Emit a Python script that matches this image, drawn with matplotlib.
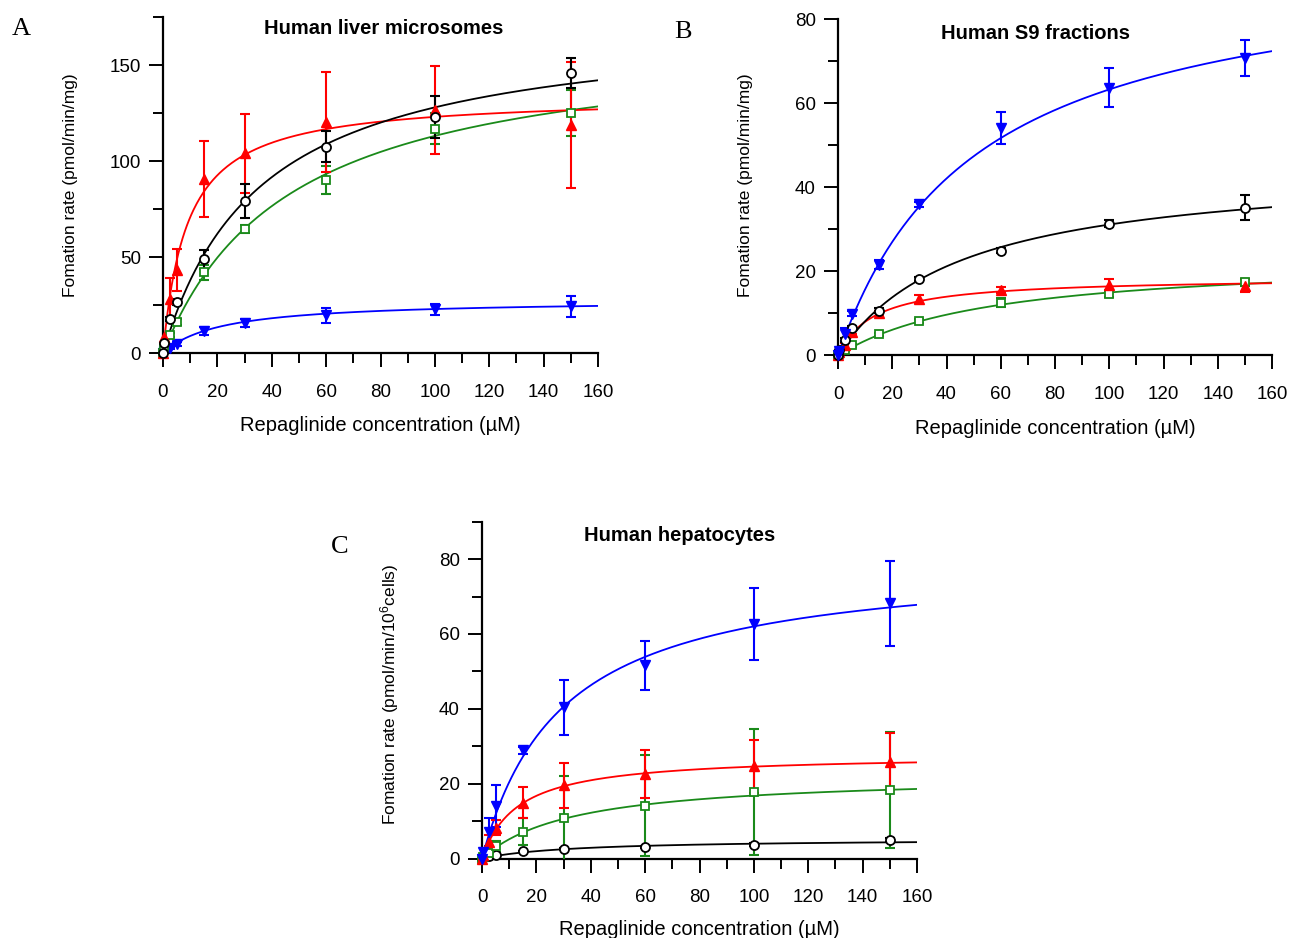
import numpy as np
import matplotlib
matplotlib.use("Agg")
import matplotlib.pyplot as plt
from matplotlib.ticker import MultipleLocator

plt.rcParams['font.family'] = ['Liberation Sans', 'DejaVu Sans']
plt.rcParams['mathtext.fontset'] = 'custom'
plt.rcParams['mathtext.rm'] = 'Liberation Sans'
plt.rcParams['mathtext.it'] = 'Liberation Sans:italic'
plt.rcParams['mathtext.bf'] = 'Liberation Sans:bold'

# ---------------- data ----------------
conc = [0, 0.5, 2.5, 5, 15, 30, 60, 100, 150]

# Panel A: Human liver microsomes
a_black = [0, 5.4, 17.9, 26.6, 48.8, 79.2, 107.4, 122.9, 145.8]
a_black_err = [0, 0.5, 1, 1.5, 5, 9, 8, 11, 8]
a_red = [0, 8.2, 28, 43.2, 90.6, 104, 120.5, 126.6, 118.7]
a_red_err = [0, 1, 11, 11, 20, 20.6, 26, 23, 33]
a_green = [0, 3, 9.5, 16, 42, 64.6, 90.1, 116.8, 125.2]
a_green_err = [0, 0.5, 1, 1.5, 4, 2, 7.5, 8, 12]
a_blue = [0, 1, 2.5, 4.7, 11.4, 15.5, 19.6, 22.7, 24.3]
a_blue_err = [0, 0.3, 0.5, 0.8, 2, 2, 4, 3, 5.5]

# Panel B: Human S9 fractions
b_black = [0, 1.2, 3.6, 6.6, 10.6, 18.1, 24.9, 31.3, 35.1]
b_black_err = [0, 0.3, 0.5, 0.5, 0.6, 0.5, 0.6, 0.8, 3]
b_red = [0, 0.8, 2.5, 5.5, 10, 13.4, 15.5, 16.8, 16.6]
b_red_err = [0, 0.2, 0.4, 0.5, 0.5, 1, 0.7, 1.5, 1.5]
b_green = [0, 0.3, 1.2, 2.4, 5, 8.2, 12.6, 14.6, 17.4]
b_green_err = [0, 0.1, 0.2, 0.3, 0.4, 0.5, 1, 0.6, 0.8]
b_blue = [0, 1, 5, 9.9, 21.6, 35.9, 54.2, 63.7, 70.7]
b_blue_err = [0, 0.3, 1.5, 0.6, 1, 0.6, 3.8, 4.7, 4.3]

# Panel C: Human hepatocytes
c_black = [0, 0.3, 0.6, 1.0, 1.9, 2.6, 3.1, 3.7, 5.0]
c_black_err = [0, 0, 0.1, 0.2, 0.2, 0.3, 0.3, 0.4, 0.5]
c_red = [0, 1, 4.4, 8.2, 14.9, 19.6, 22.6, 24.6, 25.9]
c_red_err = [0, 0.5, 2, 2, 4.2, 6, 6.4, 7.1, 7.6]
c_green = [0, 0.5, 1.5, 3.3, 7.2, 10.7, 14.1, 17.8, 18.2]
c_green_err = [0, 0.3, 1, 1.5, 3.5, 11.4, 13.5, 16.9, 15.5]
c_blue = [0, 1.8, 7, 14.1, 28.9, 40.4, 51.6, 62.7, 68.2]
c_blue_err = [0, 0.5, 3.7, 5.6, 1, 7.3, 6.6, 9.7, 11.4]

# Michaelis-Menten fit parameters (Vmax, Km) per series
a_fit = {'black': (174, 36), 'red': (134, 8.95), 'green': (166, 46.8), 'blue': (27.8, 21.4)}
b_fit = {'black': (45.3, 45.5), 'red': (18.6, 13.2), 'green': (23.5, 56.9), 'blue': (95.2, 50.5)}
c_fit = {'black': (5.3, 34), 'red': (27.8, 13.2), 'green': (22.5, 33.7), 'blue': (80.2, 29.3)}

titles = ['Human liver microsomes', 'Human S9 fractions', 'Human hepatocytes']
ylabels = ['Fomation rate (pmol/min/mg)', 'Fomation rate (pmol/min/mg)',
           r'Fomation rate (pmol/min/10$^{6}$cells)']
xlabel = 'Repaglinide concentration (\u00b5M)'
letters = ['A', 'B', 'C']

# ---------------- styles ----------------
COL = {'black': 'black', 'red': '#ff0000', 'green': '#1a8a1a', 'blue': '#0000ff'}
MK = {'black': dict(marker='o', mfc='white', mec='black', ms=6.5, mew=1.3),
      'red': dict(marker='^', mfc='#ff0000', mec='#ff0000', ms=7.5, mew=1.0),
      'green': dict(marker='s', mfc='white', mec='#1a8a1a', ms=6, mew=1.3),
      'blue': dict(marker='v', mfc='#0000ff', mec='#0000ff', ms=7.5, mew=1.0)}

W, H = 1289, 938
fig = plt.figure(figsize=(W / 100, H / 100), dpi=100)


def px_axes(l, r, t, b):
    return fig.add_axes([l / W, 1 - b / H, (r - l) / W, (b - t) / H])


axA = px_axes(163, 598, 17, 353)
axB = px_axes(838, 1272, 19, 355.5)
axC = px_axes(482, 917, 521.7, 858.5)

panels = [
    (axA, {'black': (a_black, a_black_err), 'red': (a_red, a_red_err),
           'green': (a_green, a_green_err), 'blue': (a_blue, a_blue_err)},
     a_fit, 175, 50, 25, ['blue', 'green', 'red', 'black']),
    (axB, {'black': (b_black, b_black_err), 'red': (b_red, b_red_err),
           'green': (b_green, b_green_err), 'blue': (b_blue, b_blue_err)},
     b_fit, 80, 20, 10, ['green', 'red', 'black', 'blue']),
    (axC, {'black': (c_black, c_black_err), 'red': (c_red, c_red_err),
           'green': (c_green, c_green_err), 'blue': (c_blue, c_blue_err)},
     c_fit, 90, 20, 10, ['black', 'green', 'red', 'blue']),
]

xs = np.linspace(0, 160, 400)
for ax, series, fits, ymax, ymaj, ymin, order in panels:
    for key in order:
        vals, errs = series[key]
        vmax, km = fits[key]
        ax.plot(xs, vmax * xs / (km + xs), color=COL[key], lw=1.3, zorder=2)
    for key in order:
        vals, errs = series[key]
        ax.errorbar(conc, vals, yerr=errs, fmt='none', ecolor=COL[key],
                    elinewidth=1.5, capsize=3.8, capthick=1.5, zorder=3)
        ax.plot(conc, vals, ls='none', clip_on=False, zorder=4, **MK[key])
    ax.set_xlim(0, 160)
    ax.set_ylim(0, ymax)
    ax.xaxis.set_major_locator(MultipleLocator(20))
    ax.xaxis.set_minor_locator(MultipleLocator(10))
    ax.yaxis.set_major_locator(MultipleLocator(ymaj))
    ax.yaxis.set_minor_locator(MultipleLocator(ymin))
    ax.set_yticks([t for t in np.arange(0, ymax + 0.1, ymaj) if t <= ymax])
    for s in ['top', 'right']:
        ax.spines[s].set_visible(False)
    for s in ['left', 'bottom']:
        ax.spines[s].set_linewidth(1.6)
    ax.tick_params(axis='both', which='major', direction='out', length=10,
                   width=1.4, labelsize=13.5)
    ax.tick_params(axis='both', which='minor', direction='out', length=7,
                   width=1.4)
    ax.tick_params(axis='x', which='major', pad=12)
    ax.tick_params(axis='y', which='major', pad=6)
    ax.set_facecolor('none')

# titles
axA.text(0.508, 0.967, titles[0], transform=axA.transAxes, ha='center', va='center',
         fontsize=14.5, fontweight='bold')
axB.text(0.454, 0.958, titles[1], transform=axB.transAxes, ha='center', va='center',
         fontsize=14.5, fontweight='bold')
axC.text(0.455, 0.96, titles[2], transform=axC.transAxes, ha='center', va='center',
         fontsize=14.5, fontweight='bold')

# x labels
for ax, yf in [(axA, -0.1875), (axB, -0.189), (axC, -0.182)]:
    ax.set_xlabel(xlabel, fontsize=14.5)
    ax.xaxis.set_label_coords(0.5, yf)

# y labels (pixel centers)
for (cx, cy), lab in zip([(70.5, 185), (745, 185), (389.5, 694)], ylabels):
    fig.text(cx / W, 1 - cy / H, lab, rotation=90, ha='center', va='center',
             fontsize=12.5)

# panel letters
for (cx, cy), let in zip([(21.7, 28.7), (683, 32), (340, 547)], letters):
    fig.text(cx / W, 1 - cy / H, let, ha='center', va='center', fontsize=19,
             family=['Liberation Serif', 'DejaVu Serif'])

fig.savefig('out.png', dpi=100)
